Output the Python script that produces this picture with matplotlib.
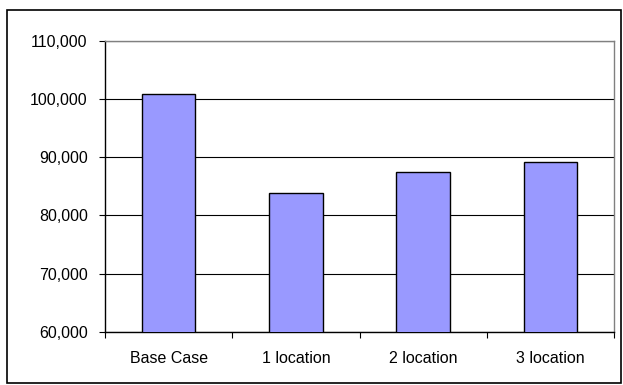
import matplotlib.pyplot as plt
from matplotlib.patches import Rectangle
from matplotlib.ticker import FuncFormatter
import numpy as np

plt.rcParams['font.family'] = ['Liberation Sans', 'DejaVu Sans']

categories = ['Base Case', '1 location', '2 location', '3 location']
values = [100800, 83900, 87400, 89200]

fig = plt.figure(figsize=(6.23, 3.85), dpi=100)
ax = fig.add_axes([105 / 623, 53.3 / 385, 509 / 623, 290.7 / 385])

x = np.arange(len(categories))
ax.bar(x, values, width=0.42, color='#9999FF', edgecolor='black', linewidth=1, zorder=3)

ax.set_xlim(-0.5, len(categories) - 0.5)
ax.set_ylim(60000, 110000)
ax.set_yticks(np.arange(60000, 110001, 10000))
ax.yaxis.set_major_formatter(FuncFormatter(lambda v, p: f'{int(v):,}'))
ax.yaxis.grid(True, color='black', linewidth=0.8, zorder=0)

# labels under category centres, tick marks on category boundaries
ax.set_xticks(x)
ax.set_xticklabels(categories)
ax.set_xticks(np.arange(-0.5, len(categories)), minor=True)
ax.tick_params(axis='x', which='major', length=0, pad=14, labelsize=11.5)
ax.tick_params(axis='x', which='minor', length=4, width=0.8, color='black')
ax.tick_params(axis='y', length=4.5, width=0.8, pad=8, labelsize=11.5)

for side in ('left', 'bottom'):
    ax.spines[side].set_color('black')
    ax.spines[side].set_linewidth(1)
for side in ('top', 'right'):
    ax.spines[side].set_color('#808080')
    ax.spines[side].set_linewidth(1)

# chart frame
fig.patches.append(Rectangle((7 / 623, 2 / 385), 614 / 623, 373 / 385,
                             transform=fig.transFigure, fill=False,
                             edgecolor='black', linewidth=1.2))

fig.savefig('out.png', dpi=100)
